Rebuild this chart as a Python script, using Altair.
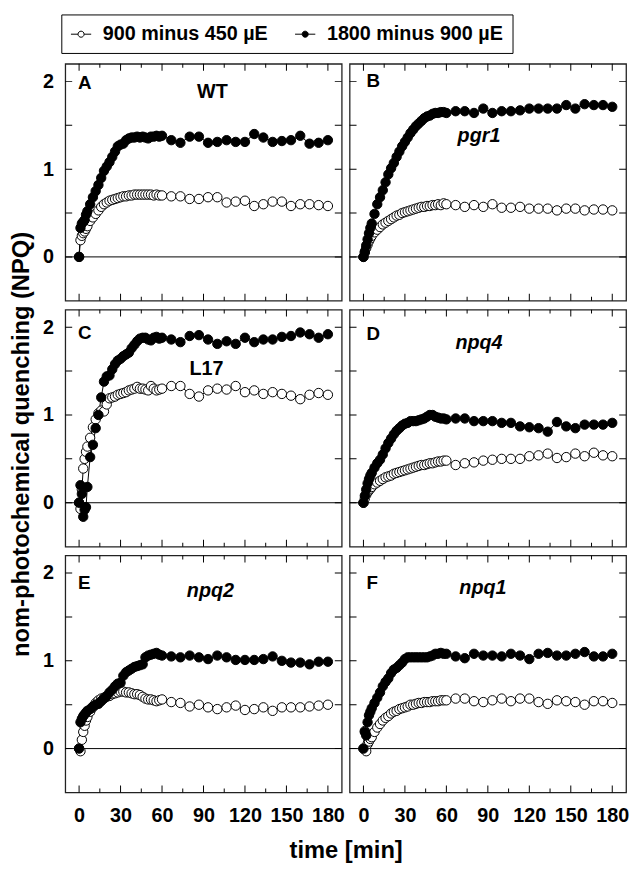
import altair as alt
import pandas as pd

# ---------------- data ----------------
TIME = [0, 1, 2, 3, 4, 5, 6, 8, 10, 12, 14, 16, 18, 20, 22, 24, 26, 28, 30, 32, 34,
        36, 38, 40, 42, 44, 46, 48, 50, 52, 54, 56, 58, 60,
        66.7, 73.3, 80, 86.7, 93.3, 100, 106.7, 113.3, 120, 126.7, 133.3, 140,
        146.7, 153.3, 160, 166.7, 173.3, 180]

PANELS = ["A", "B", "C", "D", "E", "F"]
GENOTYPES = ["WT", "pgr1", "L17", "npq4", "npq2", "npq1"]
SERIES = ["900 minus 450 µE", "1800 minus 900 µE"]

OPEN_A = [0, .19, .24, .27, .29, .32, .35, .41, .45, .49, .53, .57, .60, .62, .64, .65, .66,
          .67, .68, .69, .69, .70, .70, .71, .71, .71, .71, .71, .71, .71, .70, .71, .70, .70,
          .69, .69, .66, .66, .68, .68, .62, .63, .64, .58, .60, .63, .63, .58, .60, .60, .59, .58]
FILLED_A = [0, .33, .38, .40, .42, .48, .52, .60, .68, .75, .82, .90, .98, 1.03, 1.08, 1.14, 1.20,
            1.26, 1.28, 1.29, 1.33, 1.35, 1.36, 1.36, 1.37, 1.36, 1.37, 1.36, 1.35, 1.37, 1.37, 1.38, 1.37, 1.38,
            1.33, 1.30, 1.37, 1.37, 1.30, 1.31, 1.33, 1.31, 1.31, 1.40, 1.36, 1.31, 1.32, 1.33, 1.38, 1.29, 1.30, 1.33]

OPEN_B = [0, .05, .10, .14, .18, .21, .24, .28, .31, .34, .37, .39, .41, .43, .45, .47, .48,
          .50, .51, .52, .53, .54, .55, .56, .57, .57, .58, .58, .59, .59, .60, .59, .61, .60,
          .59, .57, .59, .57, .60, .56, .56, .57, .55, .55, .55, .53, .55, .55, .53, .54, .54, .53]
FILLED_B = [0, .06, .13, .20, .27, .33, .38, .49, .60, .68, .76, .85, .94, 1.01, 1.07, 1.14, 1.20,
            1.26, 1.31, 1.36, 1.41, 1.45, 1.49, 1.52, 1.55, 1.58, 1.60, 1.61, 1.63, 1.64, 1.64, 1.65, 1.65, 1.64,
            1.66, 1.66, 1.64, 1.69, 1.64, 1.66, 1.66, 1.67, 1.69, 1.69, 1.69, 1.69, 1.73, 1.69, 1.74, 1.73, 1.73, 1.71]

OPEN_C = [0, -.07, .15, .39, .50, .58, .64, .74, .86, .95, 1.02, 1.05, 1.04, 1.12, 1.19, 1.20, 1.21,
          1.23, 1.24, 1.25, 1.26, 1.28, 1.29, 1.30, 1.32, 1.30, 1.30, 1.29, 1.28, 1.33, 1.30, 1.28, 1.29, 1.30,
          1.33, 1.33, 1.24, 1.21, 1.28, 1.30, 1.29, 1.33, 1.26, 1.28, 1.24, 1.26, 1.24, 1.22, 1.18, 1.23, 1.25, 1.23]
FILLED_C = [0, .20, .10, -.16, -.08, -.05, .18, .52, .66, .85, 1.00, 1.20, 1.38, 1.44, 1.45, 1.52, 1.58,
            1.62, 1.64, 1.67, 1.69, 1.71, 1.76, 1.80, 1.84, 1.87, 1.88, 1.88, 1.86, 1.85, 1.88, 1.89, 1.87, 1.88,
            1.86, 1.83, 1.90, 1.91, 1.86, 1.81, 1.84, 1.81, 1.88, 1.83, 1.86, 1.86, 1.89, 1.90, 1.94, 1.92, 1.88, 1.92]

OPEN_D = [0, .05, .09, .12, .14, .16, .18, .21, .23, .25, .27, .29, .30, .31, .33, .34, .35,
          .36, .37, .38, .39, .40, .41, .42, .43, .43, .44, .45, .45, .46, .47, .47, .48, .48,
          .43, .45, .46, .48, .49, .50, .50, .50, .53, .54, .56, .51, .52, .56, .53, .57, .54, .53]
FILLED_D = [0, .08, .15, .22, .27, .31, .34, .40, .45, .49, .55, .62, .68, .73, .78, .82, .85,
            .88, .90, .91, .93, .93, .93, .94, .95, .96, .98, 1.00, 1.00, .98, .97, .96, .96, .95,
            .96, .96, .93, .93, .93, .91, .91, .87, .86, .85, .81, .92, .87, .85, .89, .89, .89, .91]

OPEN_E = [0, -.03, .10, .19, .26, .32, .36, .42, .47, .52, .55, .57, .58, .59, .60, .62, .63,
          .64, .65, .65, .64, .64, .63, .62, .62, .61, .59, .57, .56, .56, .55, .54, .55, .56,
          .53, .52, .48, .50, .47, .45, .47, .49, .44, .45, .47, .43, .47, .47, .47, .48, .49, .50]
FILLED_E = [0, .30, .34, .37, .39, .41, .43, .45, .48, .50, .51, .54, .57, .60, .64, .67, .71,
            .74, .75, .83, .87, .89, .91, .93, .94, .95, .96, 1.04, 1.06, 1.07, 1.08, 1.09, 1.07, 1.06,
            1.05, 1.04, 1.06, 1.04, 1.02, 1.06, 1.04, 1.01, 1.01, 1.01, 1.02, 1.05, 1.00, .98, .98, .96, .99, .99]

OPEN_F = [0, .20, -.03, .05, .08, .11, .13, .19, .24, .28, .32, .35, .37, .40, .42, .43, .45,
          .46, .47, .48, .50, .50, .51, .52, .52, .53, .53, .53, .54, .54, .54, .55, .55, .55,
          .57, .57, .54, .53, .55, .57, .54, .57, .57, .53, .51, .55, .54, .53, .50, .54, .54, .52]
FILLED_F = [0, .19, .15, .30, .38, .42, .46, .52, .58, .64, .71, .76, .80, .86, .90, .92, .95,
            .98, 1.02, 1.04, 1.04, 1.04, 1.04, 1.04, 1.04, 1.04, 1.04, 1.05, 1.06, 1.08, 1.08, 1.09, 1.08, 1.08,
            1.05, 1.03, 1.08, 1.06, 1.06, 1.05, 1.08, 1.06, 1.02, 1.08, 1.09, 1.06, 1.06, 1.08, 1.10, 1.05, 1.05, 1.08]

OPEN = [OPEN_A, OPEN_B, OPEN_C, OPEN_D, OPEN_E, OPEN_F]
FILLED = [FILLED_A, FILLED_B, FILLED_C, FILLED_D, FILLED_E, FILLED_F]

X_LABELS = [0, 30, 60, 90, 120, 150, 180]
X_TICKS = [0, 15, 30, 45, 60, 75, 90, 105, 120, 135, 150, 165, 180]
Y_LABELS = [0, 1, 2]
Y_TICKS = [0, 0.5, 1, 1.5, 2]

# ---------------- style ----------------
FONT = "Liberation Sans"
W, H = 280, 240
XDOM = [-10, 190]
YDOM = [-0.5, 2.2]
ITALIC = [False, True, False, True, True, True]
LETTER_X = [13, 17]
LETTER_Y = [25, 23, 30, 31, 34, 34]
GENO_X = [149, 131, 143, 131, 147, 135]
GENO_Y = [35, 79, 66, 40, 42, 39]

rows = []
for p, o, f in zip(PANELS, OPEN, FILLED):
    for s, vals in zip(SERIES, (o, f)):
        for t, v in zip(TIME, vals):
            rows.append({"panel": p, "series": s, "time": t, "npq": v})
df = pd.DataFrame(rows)
xticks_df = pd.DataFrame({"v": X_TICKS})
yticks_df = pd.DataFrame({"v": Y_TICKS})

SYMBOL = ("M-1,0L-0.3,0M0.3,0L1,0M-0.3,0A0.3,0.3,0,1,1,0.3,0"
          "A0.3,0.3,0,1,1,-0.3,0Z")

LEGEND = alt.Legend(
    orient="none", legendX=-4, legendY=-50, direction="horizontal", title=None,
    symbolType=SYMBOL, symbolSize=420, symbolStrokeColor="black", symbolStrokeWidth=1,
    labelFont=FONT, labelFontSize=20, labelFontWeight="bold", labelColor="black",
    labelLimit=400, labelOffset=11, columnPadding=24,
    strokeColor="black", fillColor="white", padding=9,
)


def panel(i):
    letter = PANELS[i]
    col, row = i % 2, i // 2
    is_left = col == 0
    is_bottom = row == 2
    d = df[df.panel == letter]
    xs = alt.Scale(domain=XDOM, nice=False, zero=False)
    ys = alt.Scale(domain=YDOM, nice=False, zero=False)

    x_lab = alt.Axis(
        orient="bottom", values=X_LABELS, ticks=False, domain=False, grid=False,
        labels=is_bottom, labelFont=FONT, labelFontSize=20, labelFontWeight="bold",
        labelColor="black", labelPadding=13, labelFlush=False, labelOverlap=False,
        title=("time [min]" if letter == "E" else None), titleX=284,
        titleFont=FONT, titleFontSize=24, titleFontWeight="bold", titleColor="black",
        titlePadding=14,
    )
    y_lab = alt.Axis(
        orient="left", values=Y_LABELS, ticks=False, domain=False, grid=False,
        labels=is_left, labelFont=FONT, labelFontSize=20, labelFontWeight="bold",
        labelColor="black", labelPadding=12, labelFlush=False, labelOverlap=False,
        title=("nom-photochemical quenching (NPQ)" if letter == "C" else None),
        titleY=136,
        titleFont=FONT, titleFontSize=24, titleFontWeight="bold", titleColor="black",
        titlePadding=9,
    )

    zero = alt.Chart(pd.DataFrame({"z": [0]})).mark_rule(color="black", strokeWidth=1).encode(
        y=alt.YDatum(0, scale=ys, axis=None),
    )
    lines = alt.Chart(d).mark_line(color="black", strokeWidth=1).encode(
        x=alt.X("time:Q", scale=xs, axis=x_lab),
        y=alt.Y("npq:Q", scale=ys, axis=y_lab),
        detail="series:N",
    )
    points = alt.Chart(d).mark_circle(size=90, stroke="black", strokeWidth=1, opacity=1).encode(
        x=alt.X("time:Q", scale=xs, axis=None),
        y=alt.Y("npq:Q", scale=ys, axis=None),
        fill=alt.Fill("series:N", scale=alt.Scale(domain=SERIES, range=["white", "black"]),
                      legend=LEGEND),
    )

    # inward ticks on all four edges (clipped to the plot area)
    xsize = alt.condition("datum.v % 30 === 0", alt.value(14), alt.value(8))
    x_top = alt.Chart(xticks_df).mark_tick(orient="vertical", clip=True, thickness=1,
                                           color="black", opacity=1).encode(
        x=alt.X("v:Q", scale=xs, axis=None), y=alt.value(0), size=xsize)
    x_bot = alt.Chart(xticks_df).mark_tick(orient="vertical", clip=True, thickness=1,
                                           color="black", opacity=1).encode(
        x=alt.X("v:Q", scale=xs, axis=None), y=alt.value(H), size=xsize)
    y_left = alt.Chart(yticks_df).mark_tick(orient="horizontal", clip=True, thickness=1,
                                            color="black", opacity=1, size=14).encode(
        y=alt.Y("v:Q", scale=ys, axis=None), x=alt.value(0))
    y_right = alt.Chart(yticks_df).mark_tick(orient="horizontal", clip=True, thickness=1,
                                             color="black", opacity=1, size=14).encode(
        y=alt.Y("v:Q", scale=ys, axis=None), x=alt.value(W))

    letter_txt = alt.Chart(pd.DataFrame({"label": [letter]})).mark_text(
        align="left", baseline="alphabetic", font=FONT, fontSize=19, fontWeight="bold",
        color="black",
    ).encode(x=alt.value(LETTER_X[col]), y=alt.value(LETTER_Y[i]), text="label:N")
    geno_txt = alt.Chart(pd.DataFrame({"label": [GENOTYPES[i]]})).mark_text(
        align="center", baseline="alphabetic", font=FONT, fontSize=20, fontWeight="bold",
        fontStyle=("italic" if ITALIC[i] else "normal"), color="black",
    ).encode(x=alt.value(GENO_X[i]), y=alt.value(GENO_Y[i]), text="label:N")

    return alt.layer(
        lines, x_top, x_bot, y_left, y_right, zero, points, letter_txt, geno_txt
    ).resolve_axis(x="independent", y="independent").properties(width=W, height=H)


chart = alt.concat(
    *[panel(i) for i in range(6)], columns=2,
    spacing={"row": 9, "column": 8}, bounds="flush",
).properties(
    padding={"left": 1, "top": 0, "right": 2, "bottom": 2},
).configure_view(
    stroke="#222", strokeWidth=1.3,
).configure_axis(grid=False, domain=False)

chart.save("out.html", embed_options={"renderer": "svg", "actions": False})
